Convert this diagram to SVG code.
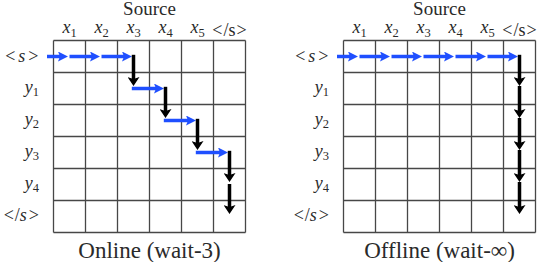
<svg xmlns="http://www.w3.org/2000/svg" width="540" height="262" viewBox="0 0 540 262">
<style>
text{font-family:'Liberation Serif','Times New Roman',serif;fill:#2a2a2a}
.t{font-size:19px}
.m{font-size:18px}
.i{font-style:italic}
.sub{font-size:12.5px;font-style:normal}
.cap{font-size:23px}
.gl{stroke:#474747;stroke-width:1.3;fill:none}
.b{stroke:#1f4fff;stroke-width:3.5;fill:none;marker-end:url(#hb)}
.k{stroke:#000;stroke-width:3.5;fill:none;marker-end:url(#hk)}
</style>
<defs>
<marker id="hb" viewBox="0 -5 10 10" refX="4" refY="0" markerWidth="10" markerHeight="10" markerUnits="userSpaceOnUse" orient="auto"><path d="M0,-5L10,0L0,5L2,0Z" fill="#1f4fff"/></marker>
<marker id="hk" viewBox="0 -6 9 12" refX="3" refY="0" markerWidth="9" markerHeight="12" markerUnits="userSpaceOnUse" orient="auto"><path d="M0,-6L9,0L0,6L2,0Z" fill="#000"/></marker>
<g id="grid">
<path class="gl" d="M53.5,40.5V232.5M85.5,40.5V232.5M117.5,40.5V232.5M149.5,40.5V232.5M181.5,40.5V232.5M213.5,40.5V232.5M245.5,40.5V232.5M53.5,40.5H245.5M53.5,72.5H245.5M53.5,104.5H245.5M53.5,136.5H245.5M53.5,168.5H245.5M53.5,200.5H245.5M53.5,232.5H245.5"/>
</g>
<g id="labels" font-family="Liberation Serif" fill="#2a2a2a">
<text class="t" x="149.5" y="15" text-anchor="middle">Source</text>
<text class="m i" x="69.5" y="33" text-anchor="middle">x<tspan class="sub" dy="4">1</tspan></text>
<text class="m i" x="101.5" y="33" text-anchor="middle">x<tspan class="sub" dy="4">2</tspan></text>
<text class="m i" x="133.5" y="33" text-anchor="middle">x<tspan class="sub" dy="4">3</tspan></text>
<text class="m i" x="165.5" y="33" text-anchor="middle">x<tspan class="sub" dy="4">4</tspan></text>
<text class="m i" x="197.5" y="33" text-anchor="middle">x<tspan class="sub" dy="4">5</tspan></text>
<text class="m" x="229.5" y="35.5" text-anchor="middle">&lt;<tspan dx="1">/s</tspan><tspan dx="1">&gt;</tspan></text>
<text class="m" x="38.5" y="61.5" text-anchor="end">&lt;<tspan class="i" dx="3">s</tspan><tspan dx="3">&gt;</tspan></text>
<text class="m i" x="39" y="92.5" text-anchor="end">y<tspan class="sub" dy="3">1</tspan></text>
<text class="m i" x="39" y="124.5" text-anchor="end">y<tspan class="sub" dy="3">2</tspan></text>
<text class="m i" x="39" y="156.5" text-anchor="end">y<tspan class="sub" dy="3">3</tspan></text>
<text class="m i" x="39" y="188.5" text-anchor="end">y<tspan class="sub" dy="3">4</tspan></text>
<text class="m" x="39" y="221" text-anchor="end">&lt;<tspan dx="1">/</tspan><tspan class="i">s</tspan><tspan dx="2">&gt;</tspan></text>
</g>
</defs>
<g id="online">
<use href="#grid"/>
<use href="#labels"/>
<text class="cap" x="149.5" y="257.5" text-anchor="middle">Online (wait-3)</text>
</g>
<g id="offline">
<use href="#grid" x="290"/>
<use href="#labels" x="290"/>
<text class="cap" x="439.5" y="257.5" text-anchor="middle">Offline (wait-∞)</text>
</g>
<g id="connectors">
<path class="b" d="M47,56.5H62"/>
<path class="b" d="M69.5,56.5H94"/>
<path class="b" d="M101.5,56.5H126"/>
<path class="k" d="M133.5,54.8V80"/>
<path class="b" d="M131.8,88.5H158"/>
<path class="k" d="M165.5,86.8V112"/>
<path class="b" d="M163.8,120.5H190"/>
<path class="k" d="M197.5,118.8V144"/>
<path class="b" d="M195.8,152.5H222"/>
<path class="k" d="M229.5,150.8V176"/>
<path class="k" d="M229.5,184V208"/>
<path class="b" d="M337,56.5H352"/>
<path class="b" d="M359.5,56.5H384"/>
<path class="b" d="M391.5,56.5H416"/>
<path class="b" d="M423.5,56.5H448"/>
<path class="b" d="M455.5,56.5H480"/>
<path class="b" d="M487.5,56.5H512"/>
<path class="k" d="M519.5,54.8V80"/>
<path class="k" d="M519.5,86V112"/>
<path class="k" d="M519.5,118V144"/>
<path class="k" d="M519.5,150V176"/>
<path class="k" d="M519.5,182V208"/>
</g>
</svg>
